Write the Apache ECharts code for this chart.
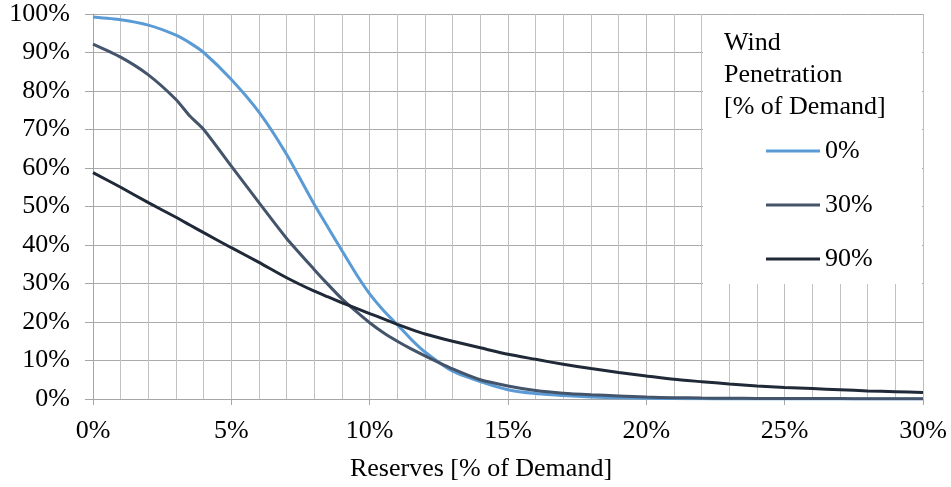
<!DOCTYPE html>
<html>
<head>
<meta charset="utf-8">
<script src="https://cdn.jsdelivr.net/npm/echarts@6/dist/echarts.min.js"></script>
<style>
  html, body { margin: 0; padding: 0; background: #fff; }
  #chart { width: 951px; height: 487px; }
</style>
</head>
<body>
<div id="chart"></div>
<script>
// Reserves (% of demand) at which each probability was evaluated
const reserves = [0, 1, 2, 3, 3.5, 4, 5, 6, 7, 8, 8.5, 9, 9.5, 10, 10.5, 11, 11.5, 12, 13, 14, 15,
  16, 17, 18, 19, 20, 21, 22, 23, 24, 25, 26, 27, 28, 29, 30];

// Probability (%) for each wind penetration level
const wind0 = [99.2, 98.5, 97.1, 94.5, 92.5, 90, 83, 74.5, 63.5, 50.5, 44.5, 38.5, 32.6, 27.3, 23, 19.3,
  15.5, 12.2, 7.2, 4.5, 2.4, 1.4, 0.9, 0.5, 0.3, 0.2, 0.1, 0.05, 0.02, 0.02, 0.02, 0.02, 0.02, 0.02,
  0.02, 0.02];
const wind30 = [92.2, 88.8, 84.2, 77.8, 73.5, 70, 60.5, 51, 41.7, 33.6, 29.7, 26, 22.8, 19.8, 17.2, 15,
  13, 11.2, 7.8, 5.0, 3.4, 2.2, 1.5, 1.1, 0.8, 0.5, 0.35, 0.25, 0.2, 0.15, 0.12, 0.1, 0.1, 0.08,
  0.08, 0.06];
const wind90 = [58.8, 55, 51, 47.2, 45.2, 43.2, 39.3, 35.5, 31.5, 28, 26.5, 25, 23.6, 22.2, 20.8, 19.4,
  18.1, 16.9, 15, 13.3, 11.6, 10.3, 9.0, 7.9, 6.9, 6.0, 5.1, 4.5, 3.9, 3.4, 3.0, 2.7, 2.4, 2.1,
  1.9, 1.7];

const seriesNames = ['0%', '30%', '90%'];
const seriesValues = [wind0, wind30, wind90];
const seriesColors = ['#5B9BD5', '#44546A', '#1F2937'];
const legendTitle = 'Wind\nPenetration\n[% of Demand]';
const xTitle = 'Reserves [% of Demand]';

const FONT = '"Liberation Serif", "Times New Roman", serif';
const FS = 26;

const chart = echarts.init(document.getElementById('chart'));

chart.setOption({
  animation: false,
  backgroundColor: '#ffffff',
  grid: { left: 93, right: 28, top: 14, bottom: 86 },
  xAxis: {
    type: 'value',
    min: 0, max: 30, interval: 5,
    name: xTitle,
    nameLocation: 'middle',
    nameGap: 57,
    nameTextStyle: { fontFamily: FONT, fontSize: FS, color: '#000', padding: [0, 54, 0, 0] },
    axisLine: { show: true, lineStyle: { color: '#A6A6A6', width: 1 } },
    axisTick: { show: true, length: 6, lineStyle: { color: '#A6A6A6' } },
    axisLabel: { formatter: '{value}%', fontFamily: FONT, fontSize: FS, color: '#000', margin: 19 },
    splitLine: { show: true, lineStyle: { color: '#BDBDBD', width: 1 } },
    minorTick: { show: false, splitNumber: 5 },
    minorSplitLine: { show: true, lineStyle: { color: '#C2C2C2', width: 1 } }
  },
  yAxis: {
    type: 'value',
    min: 0, max: 100, interval: 10,
    axisLine: { show: true, lineStyle: { color: '#A6A6A6', width: 1 } },
    axisTick: { show: true, length: 8, lineStyle: { color: '#A6A6A6' } },
    axisLabel: { formatter: '{value}%', fontFamily: FONT, fontSize: FS, color: '#000', margin: 23 },
    splitLine: { show: true, lineStyle: { color: '#ABABAB', width: 1 } }
  },
  legend: {
    orient: 'vertical',
    left: 761,
    top: 132,
    itemWidth: 54,
    itemHeight: 14,
    itemGap: 26,
    icon: 'path://M0,6 L54,6 L54,9 L0,9 Z',
    textStyle: { fontFamily: FONT, fontSize: FS, color: '#000', lineHeight: 28 },
    data: seriesNames
  },
  graphic: [
    {
      type: 'rect',
      z: 1,
      shape: { x: 703, y: 15, width: 219, height: 269 },
      style: { fill: '#ffffff' }
    },
    {
      type: 'text',
      z: 3,
      left: 724,
      top: 27,
      style: {
        text: legendTitle,
        fontFamily: FONT,
        fontSize: FS,
        lineHeight: 32,
        fill: '#000'
      }
    }
  ],
  series: seriesNames.map((name, i) => ({
    name: name,
    type: 'line',
    showSymbol: false,
    symbol: 'none',
    smooth: 0.2,
    z: 2,
    color: seriesColors[i],
    lineStyle: { width: 3, color: seriesColors[i] },
    data: reserves.map((x, j) => [x, seriesValues[i][j]])
  }))
});
</script>
</body>
</html>
